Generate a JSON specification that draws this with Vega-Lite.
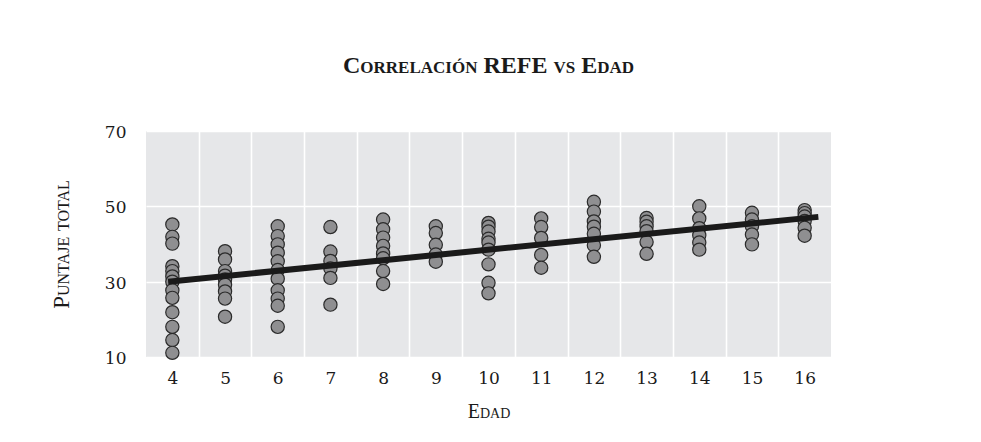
{
  "$schema": "https://vega.github.io/schema/vega-lite/v6.json",
  "autosize": {"type": "none"},
  "width": 685,
  "height": 226,
  "padding": {"left": 146, "top": 131, "right": 150, "bottom": 85},
  "background": "white",
  "title": {
    "text": "Correlación REFE vs Edad",
    "frame": "group",
    "anchor": "middle",
    "font": "Liberation Serif",
    "fontWeight": "bold",
    "fontSize": 24,
    "color": "#1a1a1a",
    "baseline": "alphabetic",
    "offset": 27
  },
  "datasets": {
    "puntos": [
      {"edad": 4, "puntaje": 45.2}, {"edad": 4, "puntaje": 41.9}, {"edad": 4, "puntaje": 40.1},
      {"edad": 4, "puntaje": 34.1}, {"edad": 4, "puntaje": 32.8}, {"edad": 4, "puntaje": 31.4},
      {"edad": 4, "puntaje": 30.0}, {"edad": 4, "puntaje": 27.7}, {"edad": 4, "puntaje": 25.7},
      {"edad": 4, "puntaje": 21.9}, {"edad": 4, "puntaje": 18.0}, {"edad": 4, "puntaje": 14.5},
      {"edad": 4, "puntaje": 11.1},
      {"edad": 5, "puntaje": 38.1}, {"edad": 5, "puntaje": 35.9}, {"edad": 5, "puntaje": 32.8},
      {"edad": 5, "puntaje": 31.6}, {"edad": 5, "puntaje": 30.6}, {"edad": 5, "puntaje": 29.2},
      {"edad": 5, "puntaje": 27.4}, {"edad": 5, "puntaje": 25.5}, {"edad": 5, "puntaje": 20.7},
      {"edad": 6, "puntaje": 44.7}, {"edad": 6, "puntaje": 42.1}, {"edad": 6, "puntaje": 39.9},
      {"edad": 6, "puntaje": 37.7}, {"edad": 6, "puntaje": 35.4}, {"edad": 6, "puntaje": 33.1},
      {"edad": 6, "puntaje": 30.8}, {"edad": 6, "puntaje": 27.7}, {"edad": 6, "puntaje": 25.5},
      {"edad": 6, "puntaje": 23.6}, {"edad": 6, "puntaje": 18.0},
      {"edad": 7, "puntaje": 44.5}, {"edad": 7, "puntaje": 38.0}, {"edad": 7, "puntaje": 35.5},
      {"edad": 7, "puntaje": 33.5}, {"edad": 7, "puntaje": 31.0}, {"edad": 7, "puntaje": 23.9},
      {"edad": 8, "puntaje": 46.5}, {"edad": 8, "puntaje": 43.9}, {"edad": 8, "puntaje": 41.7},
      {"edad": 8, "puntaje": 39.5}, {"edad": 8, "puntaje": 37.5}, {"edad": 8, "puntaje": 36.2},
      {"edad": 8, "puntaje": 32.8}, {"edad": 8, "puntaje": 29.4},
      {"edad": 9, "puntaje": 44.7}, {"edad": 9, "puntaje": 42.9}, {"edad": 9, "puntaje": 39.8},
      {"edad": 9, "puntaje": 37.2}, {"edad": 9, "puntaje": 35.3},
      {"edad": 10, "puntaje": 45.6}, {"edad": 10, "puntaje": 44.6}, {"edad": 10, "puntaje": 43.3},
      {"edad": 10, "puntaje": 41.4}, {"edad": 10, "puntaje": 40.4}, {"edad": 10, "puntaje": 38.5},
      {"edad": 10, "puntaje": 34.6}, {"edad": 10, "puntaje": 29.7}, {"edad": 10, "puntaje": 26.9},
      {"edad": 11, "puntaje": 46.8}, {"edad": 11, "puntaje": 44.5}, {"edad": 11, "puntaje": 41.6},
      {"edad": 11, "puntaje": 37.1}, {"edad": 11, "puntaje": 33.7},
      {"edad": 12, "puntaje": 51.2}, {"edad": 12, "puntaje": 48.6}, {"edad": 12, "puntaje": 46.0},
      {"edad": 12, "puntaje": 44.6}, {"edad": 12, "puntaje": 42.7}, {"edad": 12, "puntaje": 39.7},
      {"edad": 12, "puntaje": 36.6},
      {"edad": 13, "puntaje": 46.9}, {"edad": 13, "puntaje": 45.9}, {"edad": 13, "puntaje": 44.7},
      {"edad": 13, "puntaje": 43.4}, {"edad": 13, "puntaje": 40.5}, {"edad": 13, "puntaje": 37.4},
      {"edad": 14, "puntaje": 50.0}, {"edad": 14, "puntaje": 46.8}, {"edad": 14, "puntaje": 44.2},
      {"edad": 14, "puntaje": 42.3}, {"edad": 14, "puntaje": 40.4}, {"edad": 14, "puntaje": 38.5},
      {"edad": 15, "puntaje": 48.3}, {"edad": 15, "puntaje": 46.5}, {"edad": 15, "puntaje": 44.7},
      {"edad": 15, "puntaje": 42.5}, {"edad": 15, "puntaje": 39.9},
      {"edad": 16, "puntaje": 49.0}, {"edad": 16, "puntaje": 48.2}, {"edad": 16, "puntaje": 47.3},
      {"edad": 16, "puntaje": 46.1}, {"edad": 16, "puntaje": 44.3}, {"edad": 16, "puntaje": 42.2}
    ],
    "ajuste": [
      {"edad": 3.92, "puntaje": 30.0},
      {"edad": 16.26, "puntaje": 47.2}
    ]
  },
  "layer": [
    {
      "data": {"name": "puntos"},
      "mark": {
        "type": "point",
        "shape": "circle",
        "filled": true,
        "size": 175,
        "fill": "#8f8f91",
        "stroke": "#2b2b2b",
        "strokeWidth": 1.2,
        "opacity": 1,
        "fillOpacity": 1
      },
      "encoding": {
        "x": {
          "field": "edad",
          "type": "quantitative",
          "scale": {"domain": [3.5, 16.5], "nice": false, "zero": false},
          "axis": {
            "orient": "bottom",
            "values": [4, 5, 6, 7, 8, 9, 10, 11, 12, 13, 14, 15, 16],
            "grid": false,
            "domain": false,
            "ticks": false,
            "labelPadding": 13,
            "labelFont": "DejaVu Serif",
            "labelFontSize": 17,
            "labelColor": "#1a1a1a",
            "title": "Edad",
            "titleFont": "Liberation Serif",
            "titleFontSize": 20,
            "titleFontWeight": "normal",
            "titleColor": "#1a1a1a",
            "titlePadding": 15
          }
        },
        "y": {
          "field": "puntaje",
          "type": "quantitative",
          "scale": {"domain": [10, 70], "nice": false, "zero": false},
          "axis": {
            "values": [10, 30, 50, 70],
            "grid": true,
            "gridColor": "#ffffff",
            "gridWidth": 1.6,
            "domain": false,
            "ticks": false,
            "labelPadding": 20,
            "labelOffset": 1.5,
            "labelFont": "DejaVu Serif",
            "labelFontSize": 17,
            "labelColor": "#1a1a1a",
            "title": "Puntaje total",
            "titleFont": "Liberation Serif",
            "titleFontSize": 23,
            "titleFontWeight": "normal",
            "titleColor": "#1a1a1a",
            "titlePadding": 31
          }
        }
      }
    },
    {
      "data": {"name": "ajuste"},
      "mark": {"type": "line", "color": "#1a1a1a", "strokeWidth": 6, "strokeCap": "butt"},
      "encoding": {
        "x": {
          "field": "edad",
          "type": "quantitative",
          "axis": {
            "orient": "top",
            "values": [4.5, 5.5, 6.5, 7.5, 8.5, 9.5, 10.5, 11.5, 12.5, 13.5, 14.5, 15.5],
            "grid": true,
            "gridColor": "#ffffff",
            "gridWidth": 1.6,
            "labels": false,
            "ticks": false,
            "domain": false,
            "title": null
          }
        },
        "y": {"field": "puntaje", "type": "quantitative"}
      }
    }
  ],
  "resolve": {"axis": {"x": "independent"}},
  "config": {
    "view": {"fill": "#e6e7e9", "stroke": null},
    "style": {
      "group-title": {"fontVariant": "small-caps"},
      "guide-title": {"fontVariant": "small-caps"}
    }
  }
}
